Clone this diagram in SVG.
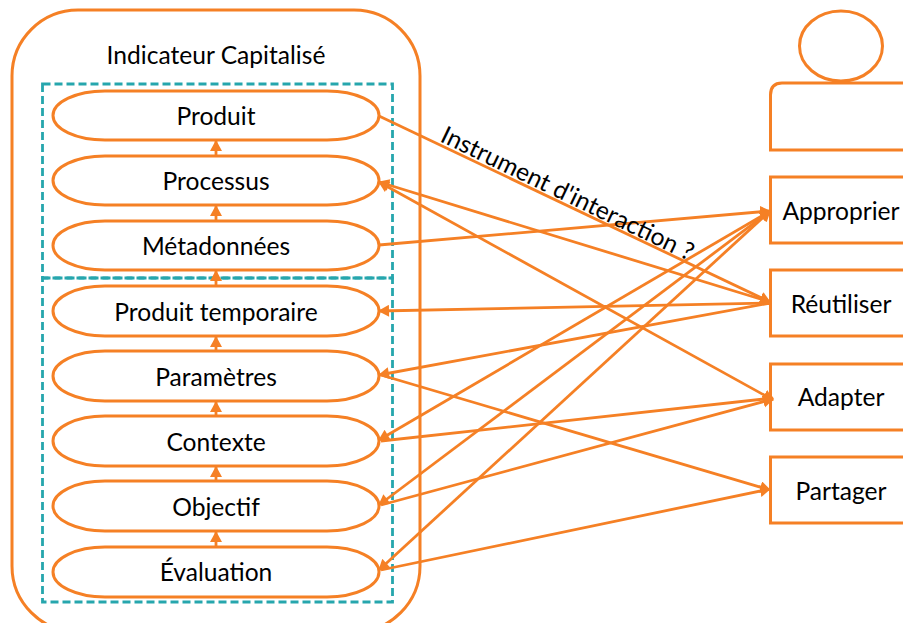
<svg xmlns="http://www.w3.org/2000/svg" width="903" height="623" viewBox="0 0 903 623">
<style>
.o{fill:#fff;stroke:#f58025;stroke-width:3}
.t{font-family:Lato,"Liberation Sans",sans-serif;font-size:24.600px;fill:#000;text-anchor:middle}
.d{fill:none;stroke:#26a6ad;stroke-width:2.800;stroke-dasharray:8 4}
.c{fill:none;stroke:#f58025;stroke-width:2.800}
.e{marker-end:url(#a)}
.s{marker-start:url(#b)}
</style>
<defs>
<marker id="a" markerUnits="userSpaceOnUse" markerWidth="13" markerHeight="13" refX="10" refY="6" orient="auto"><path d="M0 0L11 6L0 12Z" fill="#f58025"/></marker>
<marker id="b" markerUnits="userSpaceOnUse" markerWidth="13" markerHeight="13" refX="1" refY="6" orient="auto"><path d="M11 0L0 6L11 12Z" fill="#f58025"/></marker>
</defs>
<g id="indicateur">
<rect class="o" x="12" y="10" width="408" height="622" rx="66" ry="66"/>
<text class="t" x="216" y="64">Indicateur Capitalisé</text>
</g>
<g id="groupes">
<rect class="d" x="42.500" y="84" width="350" height="194"/>
<rect class="d" x="42.500" y="278" width="350" height="324"/>
</g>
<g id="produit"><rect class="o" x="53" y="91" width="326" height="49" rx="52" ry="24.500"/><text class="t" x="216" y="125">Produit</text></g>
<g id="processus"><rect class="o" x="53" y="156" width="326" height="49" rx="52" ry="24.500"/><text class="t" x="216" y="190">Processus</text></g>
<g id="metadonnees"><rect class="o" x="53" y="221" width="326" height="49" rx="52" ry="24.500"/><text class="t" x="216" y="255">Métadonnées</text></g>
<g id="produit-temporaire"><rect class="o" x="53" y="286" width="326" height="50" rx="52" ry="25"/><text class="t" x="216" y="320.500">Produit temporaire</text></g>
<g id="parametres"><rect class="o" x="53" y="351" width="326" height="50" rx="52" ry="25"/><text class="t" x="216" y="386">Paramètres</text></g>
<g id="contexte"><rect class="o" x="53" y="416" width="326" height="50" rx="52" ry="25"/><text class="t" x="216" y="451">Contexte</text></g>
<g id="objectif"><rect class="o" x="53" y="481" width="326" height="50" rx="52" ry="25"/><text class="t" x="216" y="516">Objectif</text></g>
<g id="evaluation"><rect class="o" x="53" y="547" width="326" height="50" rx="52" ry="25"/><text class="t" x="216" y="581">Évaluation</text></g>
<g id="personne">
<ellipse class="o" cx="841" cy="46" rx="41.500" ry="35"/>
<path class="o" d="M920 150H770.500V95Q770.500 83 782 83H920"/>
</g>
<g id="approprier"><rect class="o" x="770.500" y="177" width="150" height="66"/><text class="t" x="841" y="220">Approprier</text></g>
<g id="reutiliser"><rect class="o" x="770.500" y="270" width="150" height="66"/><text class="t" x="841" y="313">Réutiliser</text></g>
<g id="adapter"><rect class="o" x="770.500" y="364" width="150" height="66"/><text class="t" x="841" y="406">Adapter</text></g>
<g id="partager"><rect class="o" x="770.500" y="457" width="150" height="66"/><text class="t" x="841" y="499.500">Partager</text></g>
<g id="connecteurs">
<path class="c e" d="M216 156V141"/>
<path class="c e" d="M216 221V206"/>
<path class="c e" d="M216 286V271"/>
<path class="c e" d="M216 351V337"/>
<path class="c e" d="M216 416V402"/>
<path class="c e" d="M216 481V467"/>
<path class="c e" d="M216 547V532"/>
<path class="c e" d="M379 116L770 302"/>
<path class="c s e" d="M379 182L770 302"/>
<path class="c s e" d="M379 182L773 400"/>
<path class="c e" d="M379 245L770 211"/>
<path class="c s" d="M379 311L770 303"/>
<path class="c s" d="M379 375L770 303"/>
<path class="c e" d="M381 375L770 490"/>
<path class="c s e" d="M379 440L770 211"/>
<path class="c e" d="M381 441L773 398"/>
<path class="c s e" d="M379 505L770 211"/>
<path class="c e" d="M381 505L773 399"/>
<path class="c s e" d="M379 570L770 211"/>
<path class="c e" d="M381 570L770 489"/>
</g>
<text class="t" x="0" y="0" transform="translate(564 201) rotate(25.700)">Instrument d'interaction ?</text>
</svg>
